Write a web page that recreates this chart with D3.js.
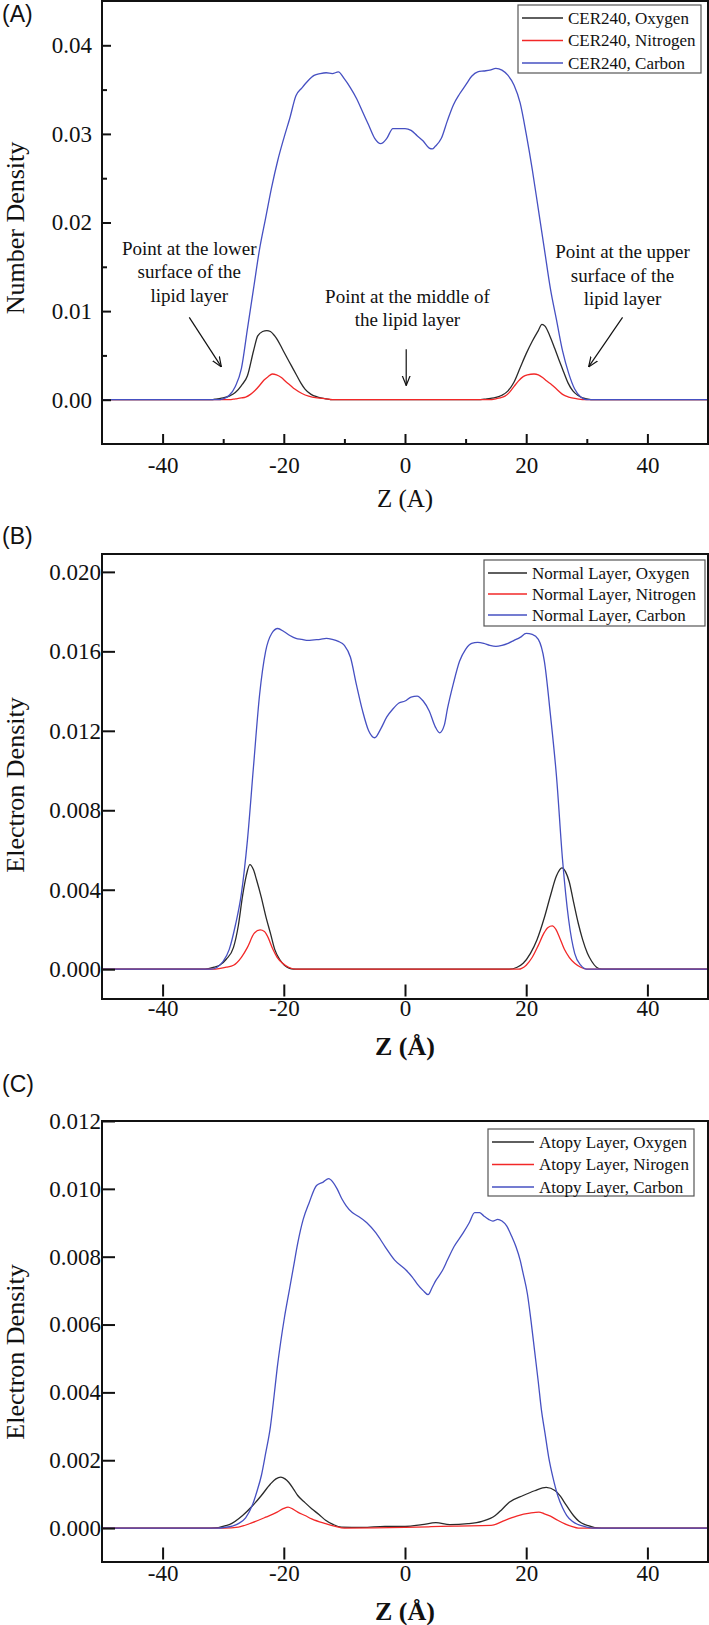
<!DOCTYPE html>
<html>
<head>
<meta charset="utf-8">
<script src="https://cdn.jsdelivr.net/npm/d3@7"></script>
<style>
  body { margin: 0; background: #fff; }
  svg { display: block; }
</style>
</head>
<body>
<svg id="chart" width="709" height="1625"></svg>
<script>
// ---- data (z in Angstrom, density) ----
const zTicks = [-40, -20, 0, 20, 40]
const zMinorTicks = [-30, -10, 10, 30]

const yTicksA = [0, 0.01, 0.02, 0.03, 0.04]
const yMinorA = [0.005, 0.015, 0.025, 0.035]
const yTicksB = [0, 0.004, 0.008, 0.012, 0.016, 0.020]
const yTicksC = [0, 0.002, 0.004, 0.006, 0.008, 0.010, 0.012]

const legendA = ['CER240, Oxygen', 'CER240, Nitrogen', 'CER240, Carbon']
const legendB = ['Normal Layer, Oxygen', 'Normal Layer, Nitrogen', 'Normal Layer, Carbon']
const legendC = ['Atopy Layer, Oxygen', 'Atopy Layer, Nirogen', 'Atopy Layer, Carbon']

const oxygenA = [[-50,0],[-32,0],[-31,0.0001],[-30,0.0002],[-29,0.0004],[-28,0.0008],[-27,0.0016],[-26,0.0027],
  [-25,0.0055],[-24.3,0.0072],[-23.5,0.0077],[-22.8,0.0078],[-22.2,0.0077],[-21.5,0.0072],[-21,0.0067],
  [-20.3,0.0058],[-19.6,0.0049],[-18.8,0.0039],[-18,0.0029],[-17.2,0.0019],[-16.5,0.0012],[-15.5,0.0006],
  [-14.4,0.0003],[-13,0.0001],[-12,0],[12,0],[13.5,0.0001],[14.7,0.0002],[16,0.0005],[17,0.001],[18,0.002],
  [19,0.0036],[20,0.0052],[21,0.0066],[22,0.0078],[22.6,0.0085],[23.1,0.0083],[23.9,0.0072],[24.7,0.0058],
  [25.4,0.0045],[26.2,0.0031],[26.9,0.0019],[27.7,0.001],[28.5,0.0005],[29.3,0.0002],[30,0.0001],[31,0],[50,0]]
const nitrogenA = [[-50,0],[-29,0],[-28,0.0001],[-27,0.0002],[-26.3,0.0003],[-25.5,0.0006],[-24.8,0.001],
  [-24,0.0016],[-23.3,0.0022],[-22.6,0.0026],[-21.9,0.0029],[-21.2,0.0028],[-20.4,0.0025],[-19.6,0.002],
  [-18.9,0.0016],[-18.2,0.0012],[-17,0.0007],[-15.9,0.0004],[-14.5,0.0002],[-13,0.0001],[-12,0],[14,0],
  [15,0.0001],[15.7,0.0002],[16.5,0.0004],[17.2,0.0008],[18,0.0015],[18.7,0.0021],[19.5,0.0026],[20.2,0.0028],
  [21.3,0.0029],[22,0.0028],[22.7,0.0025],[23.4,0.0021],[24.2,0.0017],[25,0.0012],[26,0.0006],[27,0.0003],
  [28.4,0.0001],[30,0],[50,0]]
const carbonA = [[-50,0],[-31,0],[-30,0.0001],[-29,0.0005],[-28,0.0015],[-27,0.0035],[-26,0.008],[-25,0.0125],
  [-24,0.017],[-23,0.0205],[-22,0.024],[-21,0.027],[-20,0.0295],[-19,0.0318],[-18,0.0343],[-17,0.0352],
  [-16,0.036],[-15,0.0366],[-14,0.0368],[-13,0.0369],[-12,0.0368],[-11,0.037],[-10,0.0362],[-9,0.0352],
  [-8,0.034],[-7,0.0325],[-6,0.031],[-5,0.0295],[-4,0.0289],[-3,0.0295],[-2,0.0306],[-1,0.0306],[0,0.0306],
  [1,0.0304],[2,0.0298],[3,0.0292],[4,0.0284],[4.5,0.0283],[5,0.0286],[6,0.0295],[7,0.0315],[8,0.0333],
  [9,0.0345],[10,0.0355],[11,0.0365],[12,0.037],[13,0.0371],[14,0.0372],[15,0.0374],[16,0.0372],[17,0.0366],
  [18,0.0355],[19,0.0335],[20,0.03],[21,0.026],[22,0.0215],[23,0.017],[24,0.0125],[25,0.009],[26,0.0055],
  [27,0.003],[28,0.0012],[29,0.0003],[30,0],[50,0]]

const oxygenB = [[-50,0],[-33,0],[-31.5,0.0001],[-30.6,0.0002],[-29.5,0.0005],[-28.3,0.0011],[-27.5,0.0022],
  [-26.8,0.0037],[-26.2,0.0047],[-25.6,0.00526],[-25,0.005],[-24.5,0.0045],[-23.7,0.0036],[-23,0.0027],
  [-22.2,0.0018],[-21.5,0.001],[-20.7,0.0005],[-19.9,0.0002],[-18.4,0],[17.2,0],[18.5,0.0001],[19.5,0.0003],
  [20.7,0.0008],[21.8,0.0015],[23,0.0026],[24,0.0037],[25,0.0047],[25.9,0.0051],[26.5,0.0049],[27.1,0.0044],
  [27.8,0.0034],[28.6,0.0023],[29.3,0.0015],[30.1,0.0008],[30.8,0.0004],[31.6,0.0001],[32.5,0],[50,0]]
const nitrogenB = [[-50,0],[-31.3,0],[-29.5,0.0001],[-28.3,0.0002],[-27,0.0006],[-26,0.0011],[-24.9,0.0018],
  [-23.9,0.00198],[-23.2,0.0019],[-22.6,0.0016],[-21.8,0.001],[-21.1,0.0006],[-20.2,0.0003],[-19.2,0.0001],
  [-18,0],[18.7,0],[20,0.0002],[21,0.0006],[22,0.0012],[22.9,0.0018],[23.6,0.0021],[24.3,0.00218],
  [24.9,0.002],[25.5,0.0016],[26.3,0.001],[27.1,0.0006],[28,0.0003],[29,0.0001],[30,0],[50,0]]
const carbonB = [[-50,0],[-32,0],[-31,0.0001],[-30,0.0004],[-29,0.001],[-28,0.0022],[-27,0.0038],[-26,0.0065],
  [-25,0.0102],[-24,0.0138],[-23,0.016],[-22,0.0169],[-21,0.01715],[-20,0.017],[-19,0.0168],[-18,0.01665],
  [-17,0.0166],[-16,0.01655],[-15,0.01658],[-14,0.0166],[-13,0.01665],[-12,0.0166],[-11,0.0165],[-10,0.0163],
  [-9,0.0157],[-8,0.0143],[-7,0.013],[-6,0.012],[-5,0.01165],[-4,0.0121],[-3,0.0127],[-2,0.0131],[-1,0.0134],
  [0,0.0135],[1,0.0137],[2,0.01375],[3,0.0135],[4,0.013],[5,0.0122],[5.7,0.0119],[6.5,0.0123],[7,0.0131],
  [8,0.0144],[9,0.0155],[10,0.0161],[11,0.0164],[12,0.01645],[13,0.0164],[14,0.0163],[15,0.01625],[16,0.0163],
  [17,0.0164],[18,0.01655],[19,0.0167],[20,0.0169],[21,0.01685],[22,0.0166],[23,0.0155],[24,0.0128],
  [25,0.0097],[26,0.0055],[27,0.0025],[28,0.0008],[29,0.0002],[30,0],[50,0]]

const oxygenC = [[-50,0],[-32,0],[-29,0.0001],[-26.8,0.00037],[-25.2,0.00065],[-23.7,0.00096],[-22.2,0.0013],
  [-21.3,0.00145],[-20.5,0.0015],[-19.8,0.00145],[-19.2,0.00135],[-18.4,0.00115],[-17.7,0.00096],[-16.5,0.00075],
  [-15.4,0.00057],[-14.2,0.0004],[-13.1,0.00023],[-11.8,0.0001],[-10.5,0.00003],[-7,0.00002],[-3.3,0.00005],
  [0,0.00005],[2.8,0.0001],[5.1,0.00016],[7.4,0.0001],[10.4,0.00013],[12.7,0.0002],[14.9,0.00037],
  [16,0.00055],[17.2,0.00076],[19.5,0.00096],[21.4,0.0011],[23.3,0.0012],[24.8,0.0011],[25.6,0.00095],
  [26.3,0.00076],[27.8,0.00037],[28.7,0.0002],[29.7,0.0001],[32.4,0],[50,0]]
const nitrogenC = [[-50,0],[-29.8,0],[-27.5,0.00003],[-25.2,0.00016],[-23,0.00032],[-21.1,0.00047],
  [-20,0.00058],[-19.3,0.00062],[-18.5,0.00056],[-17.7,0.00047],[-16.5,0.00037],[-15.4,0.00027],
  [-13.1,0.00013],[-11.5,0.00005],[-10,0],[0,0.00002],[4.3,0.00004],[8.1,0.00006],[14.2,0.00008],
  [16.5,0.00023],[18.7,0.00037],[20.6,0.00044],[22.1,0.00047],[23,0.00042],[24,0.00035],[25.2,0.00023],
  [26.3,0.00013],[27.5,0.00005],[28.6,0],[50,0]]
const carbonC = [[-50,0],[-31,0],[-29.8,0.00002],[-28.5,0.00006],[-27.5,0.00013],[-26.3,0.0003],[-25.2,0.00067],
  [-24.4,0.0011],[-23.7,0.00155],[-23,0.0022],[-22.2,0.003],[-21.6,0.0039],[-21.1,0.0047],[-20.5,0.0055],
  [-19.9,0.0062],[-19.1,0.007],[-18.4,0.0077],[-17.7,0.0084],[-16.8,0.0091],[-15.8,0.0096],[-14.6,0.0101],
  [-13.5,0.0102],[-12.6,0.0103],[-11.9,0.0102],[-11.2,0.01],[-10.4,0.0097],[-9.7,0.0095],[-8.7,0.0093],
  [-7.8,0.0092],[-6.3,0.009],[-4.8,0.0087],[-3.3,0.0083],[-1.7,0.0079],[0.2,0.0076],[1.2,0.0074],[2,0.0072],
  [3,0.007],[3.8,0.00688],[4.5,0.0071],[5.1,0.0073],[6.2,0.0076],[7,0.0079],[8.1,0.0083],[9.6,0.0087],
  [10.6,0.009],[11.5,0.0093],[12.3,0.0093],[13,0.0092],[13.8,0.0091],[14.5,0.00905],[15.3,0.0091],[16,0.00905],
  [16.8,0.0089],[17.6,0.0086],[18.3,0.0083],[19,0.0079],[19.5,0.0075],[20.2,0.0069],[20.8,0.0061],
  [21.4,0.0052],[22,0.0043],[22.5,0.0035],[23.1,0.0028],[23.7,0.0021],[24.4,0.0015],[25.2,0.00096],
  [26,0.0006],[26.7,0.00037],[27.6,0.0002],[28.6,0.0001],[30,0.00003],[31,0],[50,0]]

// annotation text for panel A: [z, value] anchors of text and arrows
const notesA = [
  {lines: ['Point at the lower', 'surface  of the', 'lipid layer'], at: [-35.6, 0.0171], from: [-35.6, 0.0093], to: [-30.3, 0.0037]},
  {lines: ['Point at the middle of', 'the lipid layer'], at: [0.4, 0.0117], from: [0.2, 0.0057], to: [0.2, 0.0016]},
  {lines: ['Point at the upper', 'surface  of the', 'lipid layer'], at: [35.9, 0.0167], from: [35.9, 0.0093], to: [30.3, 0.0037]}
]

const colors = ['#2a2a2a', '#f22828', '#4650c2']
const serif = '"Liberation Serif", "Times New Roman", serif'

const svg = d3.select('#chart')

// hyphen instead of unicode minus, like the original figure
const zFormat = d => String(d)

function styleTicks(sel) {
	sel.attr('font-family', null).attr('font-size', null)
	sel.selectAll('.tick text')
		.attr('font-family', serif)
		.attr('font-size', 23)
		.attr('fill', '#111')
		.style('font-family', serif)
	sel.selectAll('.tick line')
		.attr('stroke', '#111')
		.attr('stroke-width', 2)
	sel.select('.domain').remove()
}

function drawPanel(p) {
	const x = d3.scaleLinear().domain([-50, 50]).range([102, 708])
	const y = d3.scaleLinear().domain(p.yDomain).range([p.bottom, p.top])
	const g = svg.append('g')

	// curves
	const line = d3.line().x(d => x(d[0])).y(d => y(d[1])).curve(d3.curveMonotoneX)
	p.series.forEach((s, i) => {
		g.append('path')
			.datum(s)
			.attr('fill', 'none')
			.attr('stroke', colors[i])
			.attr('stroke-width', 1.3)
			.attr('d', line)
	})

	// y axis
	g.append('g')
		.attr('transform', 'translate(102,0)')
		.call(d3.axisLeft(y).tickValues(p.yTicks).tickFormat(d3.format(p.yFormat))
			.tickSize(-p.yTickLen).tickPadding(p.yPad))
		.call(styleTicks)
	if (p.yMinor) {
		g.append('g')
			.attr('transform', 'translate(102,0)')
			.call(d3.axisLeft(y).tickValues(p.yMinor).tickFormat('').tickSize(-5))
			.call(styleTicks)
	}

	// x axis
	g.append('g')
		.attr('transform', 'translate(0,' + (p.bottom - p.xGap) + ')')
		.call(d3.axisBottom(x).tickValues(zTicks).tickFormat(zFormat).tickSize(-p.xTickLen).tickPadding(p.xPad + p.xGap))
		.call(styleTicks)
	if (p.xMinor) {
		g.append('g')
			.attr('transform', 'translate(0,' + p.bottom + ')')
			.call(d3.axisBottom(x).tickValues(zMinorTicks).tickFormat('').tickSize(-5))
			.call(styleTicks)
	}

	// frame
	g.append('rect')
		.attr('x', 102).attr('y', p.top)
		.attr('width', 606).attr('height', p.bottom - p.top)
		.attr('fill', 'none').attr('stroke', '#111').attr('stroke-width', 2)

	// titles
	g.append('text')
		.attr('x', 405).attr('y', p.xTitleY).attr('dy', '0.35em')
		.attr('text-anchor', 'middle')
		.attr('font-family', serif).attr('font-size', p.xTitleBold ? 26 : 25)
		.attr('font-weight', p.xTitleBold ? 'bold' : 'normal')
		.attr('fill', '#111')
		.text(p.xTitle)
	g.append('text')
		.attr('transform', 'translate(15,' + p.yTitleY + ') rotate(-90)')
		.attr('dy', '0.35em')
		.attr('text-anchor', 'middle')
		.attr('font-family', serif).attr('font-size', 26)
		.attr('fill', '#111')
		.text(p.yTitle)
	g.append('text')
		.attr('x', 2).attr('y', p.labelY).attr('dy', '0.36em')
		.attr('font-family', '"Liberation Sans", Arial, sans-serif').attr('font-size', 23)
		.attr('fill', '#111')
		.text(p.label)

	// legend
	const L = p.legend
	g.append('rect')
		.attr('x', L.x).attr('y', L.y).attr('width', L.w).attr('height', L.h)
		.attr('fill', '#fff').attr('stroke', '#555').attr('stroke-width', 1.2)
	p.legendText.forEach((t, i) => {
		const ry = L.y + 13 + i * L.step
		g.append('line')
			.attr('x1', L.x + 4).attr('x2', L.x + L.lineW)
			.attr('y1', ry).attr('y2', ry)
			.attr('stroke', colors[i]).attr('stroke-width', 1.3)
		g.append('text')
			.attr('x', L.x + L.lineW + 5).attr('y', ry).attr('dy', '0.33em')
			.attr('font-family', serif).attr('font-size', 17).attr('fill', '#111')
			.text(t)
	})

	return {x, y, g}
}

const A = drawPanel({
	series: [oxygenA, nitrogenA, carbonA], yDomain: [-0.005, 0.045], top: 1, bottom: 444,
	yTicks: yTicksA, yMinor: yMinorA, yFormat: '.2f', yTickLen: 9, yPad: 10,
	xTickLen: 10, xPad: 13, xGap: 0, xMinor: true,
	xTitle: 'Z (A)', xTitleY: 498, xTitleBold: false,
	yTitle: 'Number Density', yTitleY: 228, label: '(A)', labelY: 14,
	legend: {x: 518, y: 5, w: 183, h: 68, step: 22.5, lineW: 45}, legendText: legendA
})

const B = drawPanel({
	series: [oxygenB, nitrogenB, carbonB], yDomain: [-0.0015, 0.0209], top: 554, bottom: 999,
	yTicks: yTicksB, yFormat: '.3f', yTickLen: 13, yPad: 1,
	xTickLen: 12, xPad: 1, xGap: 2.5, xMinor: false,
	xTitle: 'Z (Å)', xTitleY: 1046, xTitleBold: true,
	yTitle: 'Electron Density', yTitleY: 785, label: '(B)', labelY: 536,
	legend: {x: 484, y: 560, w: 221, h: 66, step: 21, lineW: 43}, legendText: legendB
})

const C = drawPanel({
	series: [oxygenC, nitrogenC, carbonC], yDomain: [-0.001, 0.012], top: 1121, bottom: 1562,
	yTicks: yTicksC, yFormat: '.3f', yTickLen: 13, yPad: 1,
	xTickLen: 12, xPad: 3, xGap: 2.5, xMinor: false,
	xTitle: 'Z (Å)', xTitleY: 1611, xTitleBold: true,
	yTitle: 'Electron Density', yTitleY: 1352, label: '(C)', labelY: 1084,
	legend: {x: 488, y: 1129, w: 206, h: 67, step: 22.5, lineW: 46}, legendText: legendC
})

// annotations in panel A
svg.append('defs').append('marker')
	.attr('id', 'arrow').attr('viewBox', '0 0 10 10')
	.attr('refX', 10).attr('refY', 5)
	.attr('markerWidth', 10).attr('markerHeight', 10)
	.attr('markerUnits', 'userSpaceOnUse')
	.attr('orient', 'auto')
	.append('path').attr('d', 'M0,1 L10,5 L0,9')
	.attr('fill', 'none').attr('stroke', '#111').attr('stroke-width', 1.2)

notesA.forEach(n => {
	const t = A.g.append('text')
		.attr('text-anchor', 'middle')
		.attr('font-family', serif).attr('font-size', 19).attr('fill', '#111')
	n.lines.forEach((s, i) => {
		t.append('tspan')
			.attr('x', A.x(n.at[0]))
			.attr('y', A.y(n.at[1]) + i * 23.5)
			.attr('dy', '0.35em')
			.text(s)
	})
	A.g.append('line')
		.attr('x1', A.x(n.from[0])).attr('y1', A.y(n.from[1]))
		.attr('x2', A.x(n.to[0])).attr('y2', A.y(n.to[1]))
		.attr('stroke', '#111').attr('stroke-width', 1.2)
		.attr('marker-end', 'url(#arrow)')
})
</script>
</body>
</html>
